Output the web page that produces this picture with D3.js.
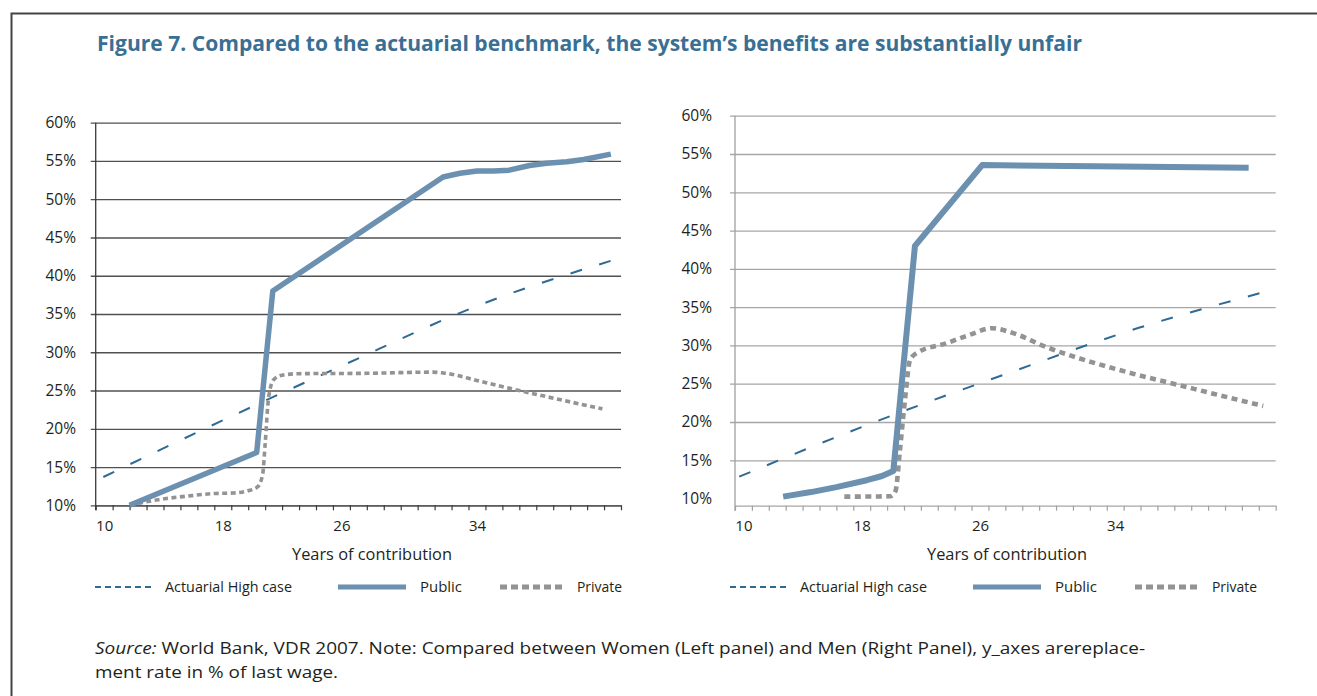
<!DOCTYPE html>
<html>
<head>
<meta charset="utf-8">
<script src="https://cdn.jsdelivr.net/npm/d3@7"></script>
<style>
  html, body { margin: 0; padding: 0; background: #fff; }
  svg { display: block; font-family: "Open Sans", "Noto Sans", sans-serif; }
</style>
</head>
<body>
<svg id="chart" width="1317" height="696"></svg>
<script>
// ---------------- DATA ----------------
const titleText = "Figure 7. Compared to the actuarial benchmark, the system\u2019s benefits are substantially unfair";
const sourceLine1Italic = "Source:";
const sourceLine1Rest = " World Bank, VDR 2007. Note: Compared between Women (Left panel) and Men (Right Panel), y_axes arereplace-";
const sourceLine2 = "ment rate in % of last wage.";
const xAxisTitle = "Years of contribution";
const seriesNames = ["Actuarial High case", "Public", "Private"];

// x tick labels and their positions on the category axis (category index units)
const xTickLabels = ["10", "18", "26", "34"];
const xTickLabelPos = [0.5, 7.5, 14.5, 22.5];
// y ticks (percent)
const yTicks = [10, 15, 20, 25, 30, 35, 40, 45, 50, 55, 60];

// Left panel (Women): [position, replacement rate %]
const womenActuarial = [[0.45, 13.7], [7.3, 20.9], [14.5, 28.2], [22.8, 36.3], [30.4, 41.95]];
const womenPublic = [[2.0, 10.0], [9.5, 16.9], [10.45, 38.0], [20.5, 52.9], [21.5, 53.4], [22.5, 53.7],
  [23.5, 53.7], [24.4, 53.8], [25.6, 54.4], [26.6, 54.7], [27.8, 54.9], [28.8, 55.2], [30.4, 55.9]];
const womenPrivate = [[2.0, 10.0], [3.6, 10.7], [5.4, 11.2], [7.1, 11.55], [8.1, 11.6], [9.0, 11.9],
  [9.55, 12.4], [9.85, 14.0], [10.0, 18.0], [10.2, 24.0], [10.5, 26.4], [11.0, 27.0], [12.0, 27.2],
  [16.0, 27.25], [19.9, 27.4], [20.5, 27.3], [22.7, 26.2], [24.6, 25.2], [26.6, 24.2], [29.9, 22.6]];

// Right panel (Men)
const menActuarial = [[0.25, 12.86], [7.8, 19.6], [16.2, 26.4], [23.9, 32.3], [31.2, 36.9]];
const menPublic = [[2.85, 10.25], [4.5, 10.85], [6.0, 11.5], [7.8, 12.4], [8.7, 12.95], [9.37, 13.6],
  [10.65, 43.0], [14.63, 53.55], [30.4, 53.2]];
const menPrivate = [[6.47, 10.25], [9.2, 10.3], [9.5, 11.0], [9.76, 16.3], [10.06, 22.9], [10.36, 28.1],
  [10.75, 29.0], [12.53, 30.3], [13.9, 31.4], [15.2, 32.25], [16.47, 31.6], [18.4, 29.8], [20.4, 28.3],
  [23.4, 26.4], [26.3, 24.8], [28.3, 23.7], [31.26, 22.1]];

const leftCategories = 31;
const rightCategories = 32;

// ---------------- STYLES ----------------
const C = {
  title: "#3a6f94",
  text: "#231f20",
  actuarial: "#2e6a94",
  public: "#6b90b0",
  private: "#939393",
  frame: "#444444"
};

const svg = d3.select("#chart");

function fit(sel, w) {
  sel.attr("textLength", w).attr("lengthAdjust", "spacingAndGlyphs");
  return sel;
}

// frame
svg.append("path")
  .attr("d", "M11.5,696 L11.5,13.5 L1317,13.5")
  .attr("fill", "none").attr("stroke", C.frame).attr("stroke-width", 2);

// title
fit(svg.append("text")
  .attr("x", 97).attr("y", 51)
  .attr("fill", C.title)
  .attr("font-size", 22).attr("font-weight", 700)
  .text(titleText), 985);

// source
const src = svg.append("text").attr("x", 95).attr("y", 654)
  .attr("fill", C.text).attr("font-size", 17);
src.append("tspan").attr("font-style", "italic").text(sourceLine1Italic);
src.append("tspan").text(sourceLine1Rest);
fit(src, 1050);
fit(svg.append("text").attr("x", 95).attr("y", 678)
  .attr("fill", C.text).attr("font-size", 17).text(sourceLine2), 243);

// ---------------- PANELS ----------------
const panels = [
  {
    nCat: leftCategories, xRange: [95.7, 621], yDomain: [10, 60], yRange: [505.3, 122.7],
    gridColor: "#505050", axisColor: "#3a3a3a", labelPad: 14.7, gridFrom: 10,
    actuarial: womenActuarial, pub: womenPublic, priv: womenPrivate,
    privW: 3.6, privDash: "5,3.5", pubW: 5.5, legendX: 95, titleX: 372
  },
  {
    nCat: rightCategories, xRange: [735, 1275.7], yDomain: [9.07, 60], yRange: [505.7, 115.7],
    gridColor: "#a6a6a6", axisColor: "#a0a0a0", labelPad: 18, gridFrom: 15,
    actuarial: menActuarial, pub: menPublic, priv: menPrivate,
    privW: 4.6, privDash: "6,4.5", pubW: 6, legendX: 730, titleX: 1007
  }
];

panels.forEach(p => {
  const x = d3.scaleLinear().domain([0, p.nCat]).range(p.xRange);
  const y = d3.scaleLinear().domain(p.yDomain).range(p.yRange);
  const g = svg.append("g");
  const w = p.xRange[1] - p.xRange[0];

  // gridlines + y labels via axisLeft
  const yAxis = g.append("g")
    .attr("transform", `translate(${p.xRange[0] - 5},0)`)
    .call(d3.axisLeft(y).tickValues(yTicks).tickSize(-(w + 5)).tickSizeOuter(0)
      .tickPadding(p.labelPad).tickFormat(d => d + "%"));
  yAxis.select(".domain").remove();
  yAxis.selectAll(".tick line")
    .attr("stroke", p.gridColor).attr("stroke-width", 1.3)
    .attr("display", d => d < p.gridFrom ? "none" : null);
  yAxis.selectAll(".tick text")
    .attr("fill", C.text).attr("font-size", 15.5)
    .attr("font-family", "'Open Sans', sans-serif");

  // vertical axis line
  g.append("line")
    .attr("x1", p.xRange[0]).attr("x2", p.xRange[0])
    .attr("y1", y(p.yDomain[1])).attr("y2", y(p.yDomain[0]) + 5)
    .attr("stroke", p.axisColor).attr("stroke-width", 1.3);

  // x axis with category ticks
  const xAxis = g.append("g")
    .attr("transform", `translate(0,${y(p.yDomain[0])})`)
    .call(d3.axisBottom(x).tickValues(d3.range(0, p.nCat + 1)).tickSize(5).tickSizeOuter(0).tickFormat(""));
  xAxis.select(".domain").attr("stroke", p.gridColor).attr("stroke-width", 1.3);
  xAxis.selectAll(".tick line").attr("stroke", p.axisColor).attr("stroke-width", 1.2);

  // x labels
  const xLab = g.append("g")
    .attr("transform", `translate(0,${y(p.yDomain[0])})`)
    .call(d3.axisBottom(x).tickValues(xTickLabelPos).tickSize(0).tickPadding(15)
      .tickFormat((d, i) => xTickLabels[i]));
  xLab.select(".domain").remove();
  xLab.selectAll(".tick text").attr("fill", C.text).attr("font-size", 15)
    .attr("font-family", "'Open Sans', sans-serif");

  // lines
  const lineSmooth = d3.line().x(d => x(d[0])).y(d => y(d[1])).curve(d3.curveMonotoneX);
  const lineStraight = d3.line().x(d => x(d[0])).y(d => y(d[1])).curve(d3.curveLinear);

  g.append("path").datum(p.actuarial).attr("d", lineSmooth)
    .attr("fill", "none").attr("stroke", C.actuarial).attr("stroke-width", 2)
    .attr("stroke-dasharray", "12,18");
  g.append("path").datum(p.priv).attr("d", lineSmooth)
    .attr("fill", "none").attr("stroke", C.private).attr("stroke-width", p.privW)
    .attr("stroke-dasharray", p.privDash);
  g.append("path").datum(p.pub).attr("d", lineStraight)
    .attr("fill", "none").attr("stroke", C.public).attr("stroke-width", p.pubW)
    .attr("stroke-linejoin", "round");

  // axis title
  fit(g.append("text").attr("x", p.titleX).attr("y", 560).attr("text-anchor", "middle")
    .attr("fill", C.text).attr("font-size", 16).text(xAxisTitle), 160);

  // legend
  const L = g.append("g").attr("transform", `translate(${p.legendX},587)`);
  L.append("line").attr("x1", 0).attr("x2", 60).attr("y1", 0).attr("y2", 0)
    .attr("stroke", C.actuarial).attr("stroke-width", 2).attr("stroke-dasharray", "6,4");
  fit(L.append("text").attr("x", 70).attr("y", 5).attr("fill", C.text).attr("font-size", 14)
    .text(seriesNames[0]), 127);
  L.append("line").attr("x1", 243).attr("x2", 311).attr("y1", 0).attr("y2", 0)
    .attr("stroke", C.public).attr("stroke-width", 4.8);
  fit(L.append("text").attr("x", 325).attr("y", 5).attr("fill", C.text).attr("font-size", 14)
    .text(seriesNames[1]), 42);
  L.append("line").attr("x1", 405).attr("x2", 470).attr("y1", 0).attr("y2", 0)
    .attr("stroke", C.private).attr("stroke-width", 4.8).attr("stroke-dasharray", "7,4");
  fit(L.append("text").attr("x", 482).attr("y", 5).attr("fill", C.text).attr("font-size", 14)
    .text(seriesNames[2]), 45);
});
</script>
</body>
</html>
